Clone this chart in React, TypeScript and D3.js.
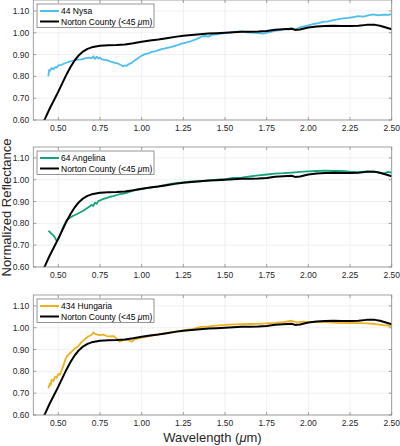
import React, { useEffect, useRef } from "react";
import * as d3 from "d3";

type Pt = [number, number];

// Norton County (<45 um) reference spectrum, same in every panel
const nortonCounty: Pt[] = [
  [0.4, 0.58], [0.42, 0.605], [0.45, 0.655], [0.48, 0.7], [0.5, 0.73],
  [0.525, 0.77], [0.55, 0.81], [0.575, 0.845], [0.6, 0.875], [0.625, 0.898],
  [0.65, 0.915], [0.675, 0.926], [0.7, 0.933], [0.75, 0.94], [0.8, 0.943],
  [0.85, 0.944], [0.9, 0.946], [0.95, 0.952], [1.0, 0.959], [1.05, 0.964],
  [1.1, 0.969], [1.15, 0.975], [1.2, 0.981], [1.25, 0.986], [1.3, 0.99],
  [1.35, 0.993], [1.4, 0.996], [1.45, 0.998], [1.5, 1.0], [1.55, 1.002],
  [1.6, 1.004], [1.65, 1.005], [1.7, 1.006], [1.75, 1.008], [1.8, 1.014],
  [1.85, 1.016], [1.9, 1.018], [1.92, 1.013], [1.95, 1.015], [2.0, 1.024],
  [2.05, 1.028], [2.1, 1.031], [2.15, 1.032], [2.2, 1.031], [2.25, 1.031],
  [2.3, 1.032], [2.35, 1.036], [2.4, 1.036], [2.43, 1.032], [2.46, 1.025],
  [2.5, 1.016],
];

const nysa: Pt[] = [
  [0.44, 0.8], [0.445, 0.83], [0.45, 0.825], [0.46, 0.838], [0.47, 0.832],
  [0.48, 0.842], [0.49, 0.84], [0.5, 0.85], [0.52, 0.853], [0.54, 0.86],
  [0.56, 0.866], [0.58, 0.87], [0.6, 0.874], [0.62, 0.877], [0.64, 0.878],
  [0.66, 0.882], [0.68, 0.886], [0.7, 0.884], [0.71, 0.892], [0.72, 0.88],
  [0.73, 0.89], [0.74, 0.882], [0.75, 0.886], [0.76, 0.878], [0.78, 0.876],
  [0.8, 0.872], [0.82, 0.866], [0.84, 0.862], [0.86, 0.858], [0.88, 0.85],
  [0.89, 0.846], [0.9, 0.85], [0.91, 0.848], [0.92, 0.855], [0.94, 0.862],
  [0.96, 0.874], [0.98, 0.884], [1.0, 0.895], [1.02, 0.902], [1.04, 0.905],
  [1.06, 0.912], [1.08, 0.915], [1.1, 0.92], [1.12, 0.925], [1.14, 0.928],
  [1.16, 0.932], [1.18, 0.935], [1.2, 0.94], [1.22, 0.944], [1.24, 0.95],
  [1.26, 0.953], [1.28, 0.958], [1.3, 0.962], [1.32, 0.968], [1.34, 0.975],
  [1.36, 0.983], [1.38, 0.985], [1.4, 0.982], [1.42, 0.99], [1.45, 0.992],
  [1.48, 0.996], [1.5, 0.998], [1.53, 1.0], [1.56, 1.004], [1.6, 1.006],
  [1.63, 1.002], [1.66, 1.0], [1.7, 0.998], [1.73, 0.996], [1.76, 1.002],
  [1.8, 1.008], [1.83, 1.012], [1.86, 1.018], [1.88, 1.014], [1.9, 1.02],
  [1.92, 1.016], [1.95, 1.024], [1.98, 1.03], [2.0, 1.034], [2.03, 1.04],
  [2.06, 1.044], [2.09, 1.05], [2.12, 1.052], [2.15, 1.058], [2.18, 1.062],
  [2.21, 1.066], [2.24, 1.068], [2.27, 1.072], [2.3, 1.076], [2.33, 1.074],
  [2.36, 1.08], [2.39, 1.084], [2.42, 1.08], [2.45, 1.083], [2.48, 1.082],
  [2.5, 1.085],
];

const angelina: Pt[] = [
  [0.44, 0.765], [0.45, 0.76], [0.46, 0.752], [0.47, 0.745], [0.48, 0.735],
  [0.49, 0.72], [0.5, 0.728], [0.51, 0.745], [0.52, 0.765], [0.53, 0.785],
  [0.54, 0.8], [0.55, 0.815], [0.57, 0.826], [0.59, 0.835], [0.61, 0.842],
  [0.63, 0.85], [0.65, 0.858], [0.67, 0.868], [0.69, 0.878], [0.7, 0.885],
  [0.71, 0.88], [0.72, 0.895], [0.73, 0.89], [0.74, 0.902], [0.75, 0.905],
  [0.77, 0.912], [0.79, 0.916], [0.81, 0.922], [0.83, 0.925], [0.85, 0.93],
  [0.87, 0.934], [0.89, 0.936], [0.91, 0.94], [0.93, 0.945], [0.95, 0.95],
  [0.97, 0.953], [1.0, 0.957], [1.03, 0.962], [1.06, 0.965], [1.1, 0.97],
  [1.15, 0.978], [1.2, 0.984], [1.25, 0.988], [1.3, 0.992], [1.35, 0.993],
  [1.4, 0.996], [1.45, 1.0], [1.5, 1.003], [1.55, 1.008], [1.6, 1.01],
  [1.65, 1.015], [1.7, 1.02], [1.75, 1.024], [1.8, 1.028], [1.85, 1.03],
  [1.9, 1.033], [1.95, 1.036], [2.0, 1.038], [2.05, 1.04], [2.1, 1.042],
  [2.15, 1.04], [2.2, 1.04], [2.25, 1.037], [2.3, 1.035], [2.35, 1.038],
  [2.4, 1.037], [2.45, 1.028], [2.48, 1.036], [2.5, 1.032],
];

const hungaria: Pt[] = [
  [0.44, 0.722], [0.45, 0.745], [0.455, 0.738], [0.46, 0.762], [0.47, 0.755],
  [0.48, 0.775], [0.49, 0.77], [0.5, 0.788], [0.51, 0.785], [0.52, 0.805],
  [0.53, 0.825], [0.54, 0.85], [0.55, 0.868], [0.56, 0.875], [0.58, 0.89],
  [0.6, 0.905], [0.62, 0.915], [0.64, 0.935], [0.66, 0.948], [0.68, 0.96],
  [0.7, 0.968], [0.71, 0.978], [0.72, 0.972], [0.73, 0.97], [0.75, 0.966],
  [0.77, 0.968], [0.79, 0.962], [0.81, 0.96], [0.83, 0.962], [0.85, 0.95],
  [0.86, 0.94], [0.87, 0.936], [0.89, 0.944], [0.9, 0.945], [0.92, 0.944],
  [0.94, 0.936], [0.96, 0.948], [1.0, 0.955], [1.05, 0.962], [1.1, 0.97],
  [1.15, 0.975], [1.2, 0.982], [1.25, 0.988], [1.3, 0.993], [1.35, 1.003],
  [1.4, 1.006], [1.45, 1.01], [1.5, 1.013], [1.55, 1.015], [1.6, 1.016],
  [1.65, 1.017], [1.7, 1.018], [1.75, 1.02], [1.8, 1.022], [1.85, 1.026],
  [1.9, 1.032], [1.93, 1.025], [1.97, 1.028], [2.0, 1.026], [2.05, 1.027],
  [2.1, 1.026], [2.15, 1.024], [2.2, 1.021], [2.25, 1.022], [2.3, 1.021],
  [2.35, 1.02], [2.4, 1.017], [2.45, 1.012], [2.5, 1.008],
];

const asteroidNames = ["44 Nysa", "64 Angelina", "434 Hungaria"];
const asteroidColors = ["#4DBEEE", "#12A47B", "#EDB120"];
const asteroidSpectra = [nysa, angelina, hungaria];

const xTicks = [0.5, 0.75, 1.0, 1.25, 1.5, 1.75, 2.0, 2.25, 2.5];
const yTicks = [0.6, 0.7, 0.8, 0.9, 1.0, 1.1];

const W = 400;
const H = 446;
const panelTops = [0, 147, 295];
const panelH = 120;
const left = 33.3;
const right = 391.7;
const font = "'Liberation Sans', Arial, sans-serif";

const App: React.FC = () => {
  const svgRef = useRef<SVGSVGElement>(null);

  useEffect(() => {
    const svg = d3.select(svgRef.current);
    svg.selectAll("*").remove();

    const x = d3.scaleLinear().domain([0.35, 2.5]).range([left, right]);

    asteroidNames.forEach((name, i) => {
      const top = panelTops[i];
      const y = d3.scaleLinear().domain([0.6, 1.15]).range([top + panelH, top]);
      const g = svg.append("g");

      g.append("rect")
        .attr("x", left)
        .attr("y", top)
        .attr("width", right - left)
        .attr("height", panelH)
        .attr("fill", "#fff");

      // grid
      g.selectAll(".vg")
        .data(xTicks)
        .enter()
        .append("line")
        .attr("x1", (d) => x(d))
        .attr("x2", (d) => x(d))
        .attr("y1", top)
        .attr("y2", top + panelH)
        .attr("stroke", "#e6e6e6")
        .attr("stroke-width", 0.6);
      g.selectAll(".hg")
        .data(yTicks)
        .enter()
        .append("line")
        .attr("x1", left)
        .attr("x2", right)
        .attr("y1", (d) => y(d))
        .attr("y2", (d) => y(d))
        .attr("stroke", "#e6e6e6")
        .attr("stroke-width", 0.6);

      const clipId = `clip${i}`;
      g.append("clipPath")
        .attr("id", clipId)
        .append("rect")
        .attr("x", left)
        .attr("y", top)
        .attr("width", right - left)
        .attr("height", panelH);

      const line = d3
        .line<Pt>()
        .x((d) => x(d[0]))
        .y((d) => y(d[1]));

      g.append("path")
        .datum(asteroidSpectra[i])
        .attr("clip-path", `url(#${clipId})`)
        .attr("fill", "none")
        .attr("stroke", asteroidColors[i])
        .attr("stroke-width", 1.8)
        .attr("stroke-linejoin", "round")
        .attr("d", line);

      g.append("path")
        .datum(nortonCounty)
        .attr("clip-path", `url(#${clipId})`)
        .attr("fill", "none")
        .attr("stroke", "#000")
        .attr("stroke-width", 2)
        .attr("stroke-linejoin", "round")
        .attr("d", line);

      // box and ticks
      const axisColor = "#8a8a8a";
      g.append("rect")
        .attr("x", left)
        .attr("y", top)
        .attr("width", right - left)
        .attr("height", panelH)
        .attr("fill", "none")
        .attr("stroke", axisColor)
        .attr("stroke-width", 0.8);

      xTicks.forEach((t) => {
        g.append("line")
          .attr("x1", x(t)).attr("x2", x(t))
          .attr("y1", top + panelH).attr("y2", top + panelH - 3)
          .attr("stroke", axisColor).attr("stroke-width", 0.8);
        g.append("line")
          .attr("x1", x(t)).attr("x2", x(t))
          .attr("y1", top).attr("y2", top + 3)
          .attr("stroke", axisColor).attr("stroke-width", 0.8);
        g.append("text")
          .attr("x", x(t))
          .attr("y", top + panelH + 11)
          .attr("text-anchor", "middle")
          .attr("font-family", font)
          .attr("font-size", 8.5)
          .attr("fill", "#262626")
          .text(t.toFixed(2));
      });

      yTicks.forEach((t) => {
        g.append("line")
          .attr("x1", left).attr("x2", left + 3)
          .attr("y1", y(t)).attr("y2", y(t))
          .attr("stroke", axisColor).attr("stroke-width", 0.8);
        g.append("line")
          .attr("x1", right).attr("x2", right - 3)
          .attr("y1", y(t)).attr("y2", y(t))
          .attr("stroke", axisColor).attr("stroke-width", 0.8);
        g.append("text")
          .attr("x", left - 4)
          .attr("y", y(t) + 3)
          .attr("text-anchor", "end")
          .attr("font-family", font)
          .attr("font-size", 8.5)
          .attr("fill", "#262626")
          .text(t.toFixed(2));
      });

      // legend
      const lg = g.append("g").attr("transform", `translate(37,${top + 4})`);
      lg.append("rect")
        .attr("width", 117)
        .attr("height", 23.5)
        .attr("fill", "#fff")
        .attr("stroke", "#7a7a7a")
        .attr("stroke-width", 0.8);
      const items = [
        { label: name, color: asteroidColors[i] },
        { label: "Norton County", color: "#000" },
      ];
      items.forEach((it, k) => {
        const cy = 7 + k * 10.5;
        lg.append("line")
          .attr("x1", 3).attr("x2", 22)
          .attr("y1", cy).attr("y2", cy)
          .attr("stroke", it.color)
          .attr("stroke-width", 2);
        const tx = lg.append("text")
          .attr("x", 24)
          .attr("y", cy + 3)
          .attr("font-family", font)
          .attr("font-size", 8.5)
          .attr("fill", "#000");
        if (k === 0) {
          tx.text(it.label);
        } else {
          tx.append("tspan").text("Norton County (<45 ");
          tx.append("tspan").attr("font-style", "italic").text("\u03bc");
          tx.append("tspan").text("m)");
        }
      });
    });

    svg.append("text")
      .attr("transform", `translate(11,${(panelTops[0] + panelTops[2] + panelH) / 2}) rotate(-90)`)
      .attr("text-anchor", "middle")
      .attr("font-family", font)
      .attr("font-size", 13)
      .attr("fill", "#262626")
      .text("Normalized Reflectance");

    const xl = svg.append("text")
      .attr("x", (left + right) / 2)
      .attr("y", 442)
      .attr("text-anchor", "middle")
      .attr("font-family", font)
      .attr("font-size", 13)
      .attr("fill", "#262626");
    xl.append("tspan").text("Wavelength (");
    xl.append("tspan").attr("font-style", "italic").text("\u03bc");
    xl.append("tspan").text("m)");
  }, []);

  return (
    <svg
      ref={svgRef}
      width={W}
      height={H}
      style={{ position: "absolute", left: 0, top: 0, background: "#fff" }}
    />
  );
};

export default App;
